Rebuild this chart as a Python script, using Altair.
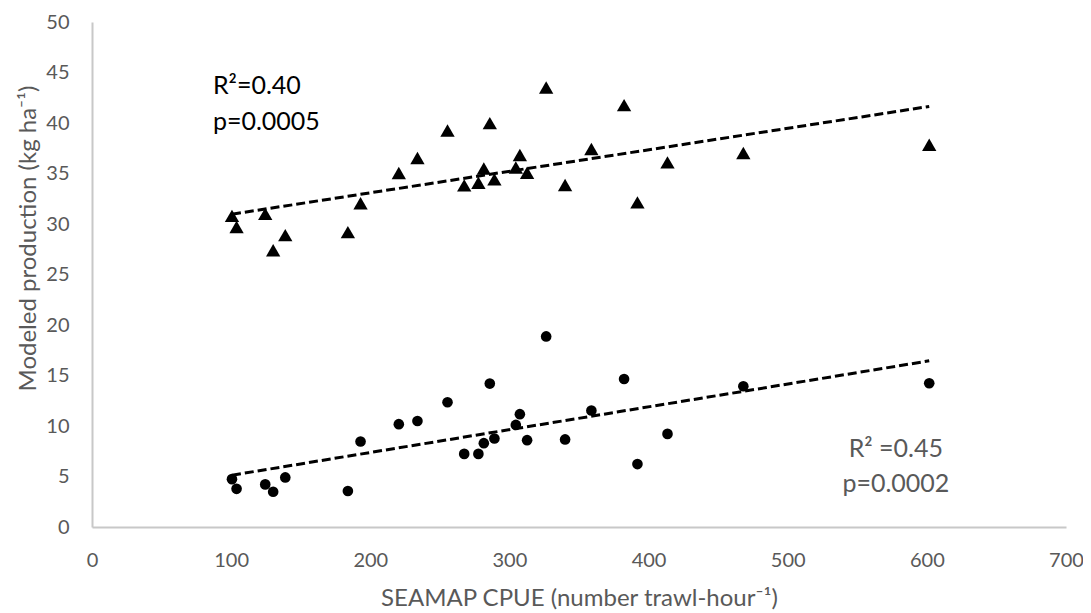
import altair as alt
import pandas as pd

# ---- data ----
cpue = [100.6, 103.9, 124.5, 130.2, 138.9, 183.9, 193.0, 220.5, 233.9, 255.5,
        267.5, 277.7, 281.6, 285.9, 289.2, 304.6, 307.5, 312.7, 326.4, 340.0,
        358.9, 382.4, 392.0, 413.6, 468.1, 601.7]
prod_triangle = [30.8, 29.7, 31.0, 27.4, 28.9, 29.2, 32.05, 35.05, 36.53, 39.26,
                 33.82, 34.09, 35.50, 39.99, 34.42, 35.60, 36.83, 35.08, 43.51, 33.86,
                 37.42, 41.77, 32.14, 36.10, 37.03, 37.85]
prod_circle = [4.74, 3.78, 4.22, 3.49, 4.91, 3.56, 8.47, 10.18, 10.50, 12.35,
               7.24, 7.24, 8.30, 14.20, 8.76, 10.11, 11.17, 8.60, 18.87, 8.67,
               11.53, 14.65, 6.23, 9.22, 13.93, 14.23]
series_names = ["triangle", "circle"]
x_ticks = [0, 100, 200, 300, 400, 500, 600, 700]
y_ticks = [0, 5, 10, 15, 20, 25, 30, 35, 40, 45, 50]
top_note = ["R²=0.40", "p=0.0005"]
bottom_note = ["R² =0.45", "p=0.0002"]

n = len(cpue)
df = pd.DataFrame({
    "cpue": cpue + cpue,
    "prod": prod_triangle + prod_circle,
    "series": [series_names[0]] * n + [series_names[1]] * n,
})

FONT = "Lato"
GRAY = "#595959"
TRI = "M-1,0.866L0,-0.866L1,0.866Z"

x_scale = alt.Scale(domain=[0, 700], nice=False)
y_scale = alt.Scale(domain=[0, 50], nice=False)

x_enc = alt.X("cpue:Q", scale=x_scale,
              axis=alt.Axis(values=x_ticks, title="SEAMAP CPUE (number trawl-hour⁻¹)",
                            labelFlush=False, labelOverlap=False,
                            titleY=78, titleBaseline="alphabetic"))
y_enc = alt.Y("prod:Q", scale=y_scale,
              axis=alt.Axis(values=y_ticks, title="Modeled production (kg ha⁻¹)",
                            labelOverlap=False, labelFlush=False,
                            titleX=-57, titleY=216, titleAngle=270,
                            titleAlign="center", titleBaseline="alphabetic"))

base = alt.Chart(df)

tri_pts = base.transform_filter(alt.datum.series == series_names[0]).mark_point(
    shape=TRI, filled=True, color="black", opacity=1, size=205, strokeWidth=0
).encode(x=x_enc, y=y_enc)

circ_pts = base.transform_filter(alt.datum.series == series_names[1]).mark_point(
    shape="circle", filled=True, color="black", opacity=1, size=113, strokeWidth=0
).encode(x=x_enc, y=y_enc)

reg = base.transform_regression("cpue", "prod", groupby=["series"]).mark_line(
    color="black", strokeDash=[9, 4], strokeWidth=3
).encode(x=x_enc, y=y_enc, detail="series:N")


def note(text, xv, yv, align, color):
    return alt.Chart(pd.DataFrame({"label": [text]})).mark_text(
        align=align, baseline="alphabetic", font=FONT, fontSize=25, color=color
    ).encode(x=alt.datum(xv), y=alt.datum(yv), text="label:N")


notes = [
    note(top_note[0], 86.9, 42.87, "left", "black"),
    note(top_note[1], 86.9, 39.3, "left", "black"),
    note(bottom_note[0], 577.7, 6.9, "center", GRAY),
    note(bottom_note[1], 577.7, 3.5, "center", GRAY),
]

chart = alt.layer(reg, tri_pts, circ_pts, *notes).properties(
    width=974, height=505,
    autosize=alt.AutoSizeParams(type="none"),
    padding={"left": 84, "top": 14, "right": 17, "bottom": 86},
    background="white",
).configure_view(stroke=None).configure_axis(
    grid=False, ticks=False,
    domainColor="#c8c8c8", domainWidth=2,
    labelFont=FONT, labelFontSize=20, labelColor=GRAY, labelPadding=23,
    titleFont=FONT, titleFontSize=24, titleFontWeight="normal", titleColor=GRAY,
)

chart.save("out.html", embed_options={"renderer": "svg", "actions": False})
